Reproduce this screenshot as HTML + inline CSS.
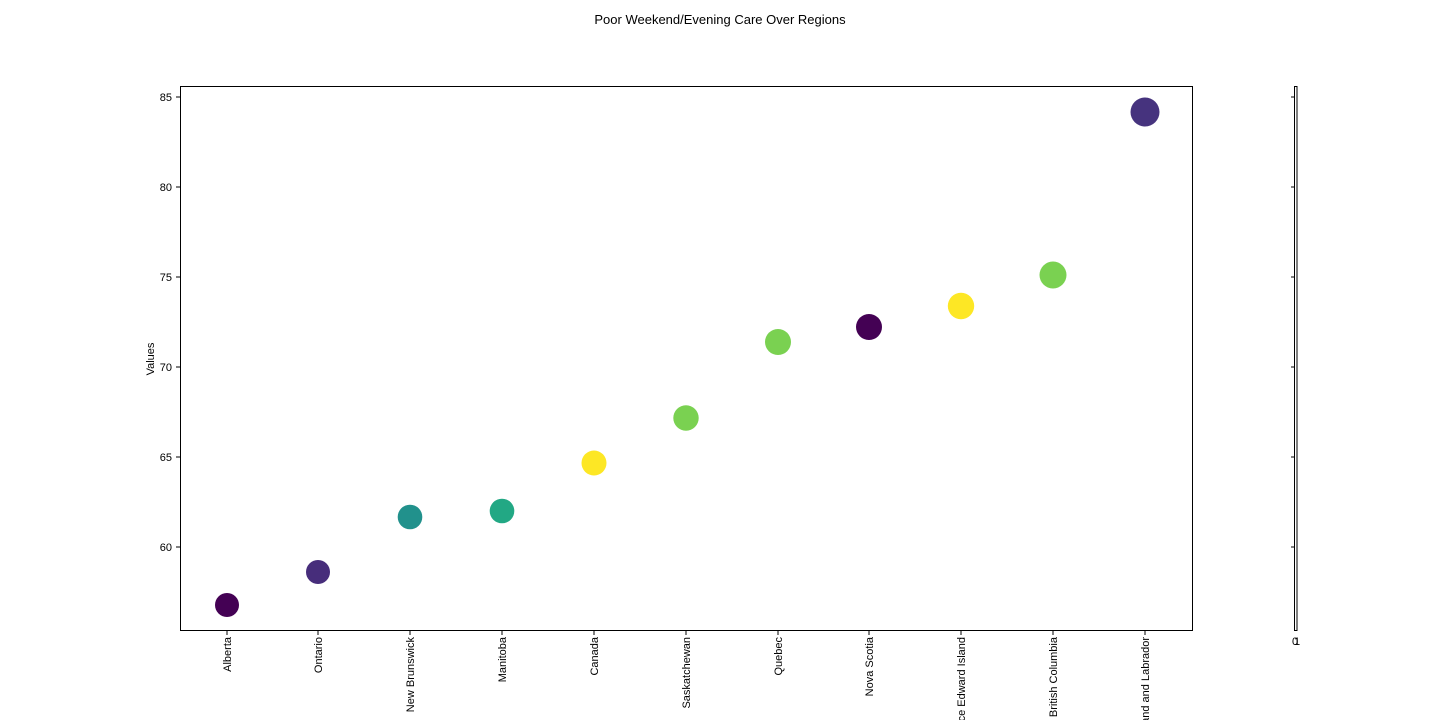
<!DOCTYPE html>
<html><head><meta charset="utf-8"><style>
html,body{margin:0;background:#fff;width:1440px;height:720px;overflow:hidden}
svg{display:block;overflow:hidden;font-family:"Liberation Sans","DejaVu Sans",sans-serif}
</style></head><body>
<svg width="1440" height="720" viewBox="0 0 1440 720">
<text x="720" y="24" font-size="13" text-anchor="middle">Poor Weekend/Evening Care Over Regions</text>
<rect x="180.5" y="86.5" width="1012" height="544" fill="none" stroke="#000" stroke-width="1"/>
<g font-size="11" text-anchor="end" fill="#000" stroke="none">
<g stroke="#000"><line x1="176" x2="180" y1="97" y2="97"/><line x1="176" x2="180" y1="187" y2="187"/><line x1="176" x2="180" y1="277" y2="277"/><line x1="176" x2="180" y1="367" y2="367"/><line x1="176" x2="180" y1="457" y2="457"/><line x1="176" x2="180" y1="547" y2="547"/></g>
<text x="172" y="101">85</text><text x="172" y="191">80</text><text x="172" y="281">75</text><text x="172" y="371">70</text><text x="172" y="461">65</text><text x="172" y="551">60</text>
</g>
<text transform="translate(154,359) rotate(-90)" font-size="11" text-anchor="middle">Values</text>
<g fill="none" stroke="#000">
<rect x="1294.5" y="86.5" width="2.5" height="544"/>
<line x1="1291" x2="1294" y1="97" y2="97"/><line x1="1291" x2="1294" y1="187" y2="187"/><line x1="1291" x2="1294" y1="277" y2="277"/><line x1="1291" x2="1294" y1="367" y2="367"/><line x1="1291" x2="1294" y1="457" y2="457"/><line x1="1291" x2="1294" y1="547" y2="547"/>
</g>
<text x="1295" y="645" font-size="11" text-anchor="middle">0</text><text x="1297" y="645" font-size="11" text-anchor="middle">1</text>
<g stroke="#000">
<line x1="227" x2="227" y1="631" y2="635"/><line x1="318" x2="318" y1="631" y2="635"/><line x1="410" x2="410" y1="631" y2="635"/><line x1="502" x2="502" y1="631" y2="635"/><line x1="594" x2="594" y1="631" y2="635"/><line x1="686" x2="686" y1="631" y2="635"/><line x1="778" x2="778" y1="631" y2="635"/><line x1="869" x2="869" y1="631" y2="635"/><line x1="961" x2="961" y1="631" y2="635"/><line x1="1053" x2="1053" y1="631" y2="635"/><line x1="1145" x2="1145" y1="631" y2="635"/>
</g>
<g font-size="11" text-anchor="end">
<text transform="translate(231,637) rotate(-90)">Alberta</text>
<text transform="translate(322,637) rotate(-90)">Ontario</text>
<text transform="translate(414,637) rotate(-90)">New Brunswick</text>
<text transform="translate(506,637) rotate(-90)">Manitoba</text>
<text transform="translate(598,637) rotate(-90)">Canada</text>
<text transform="translate(690,637) rotate(-90)">Saskatchewan</text>
<text transform="translate(782,637) rotate(-90)">Quebec</text>
<text transform="translate(873,637) rotate(-90)">Nova Scotia</text>
<text transform="translate(965,637) rotate(-90)">Prince Edward Island</text>
<text transform="translate(1057,637) rotate(-90)">British Columbia</text>
<text transform="translate(1149,637) rotate(-90)">Newfoundland and Labrador</text>
</g>
<circle cx="227" cy="605" r="12" fill="#440154"/>
<circle cx="318" cy="572" r="12" fill="#472d7b"/>
<circle cx="410" cy="517" r="12.3" fill="#21918c"/>
<circle cx="502" cy="511" r="12.3" fill="#22a884"/>
<circle cx="594" cy="463" r="12.5" fill="#fde725"/>
<circle cx="686" cy="418" r="12.7" fill="#7ad151"/>
<circle cx="778" cy="342" r="13" fill="#7ad151"/>
<circle cx="869" cy="327" r="13" fill="#440154"/>
<circle cx="961" cy="306" r="13.2" fill="#fde725"/>
<circle cx="1053" cy="275" r="13.5" fill="#7ad151"/>
<circle cx="1145" cy="112" r="14.5" fill="#46337e"/>
</svg>
</body></html>
